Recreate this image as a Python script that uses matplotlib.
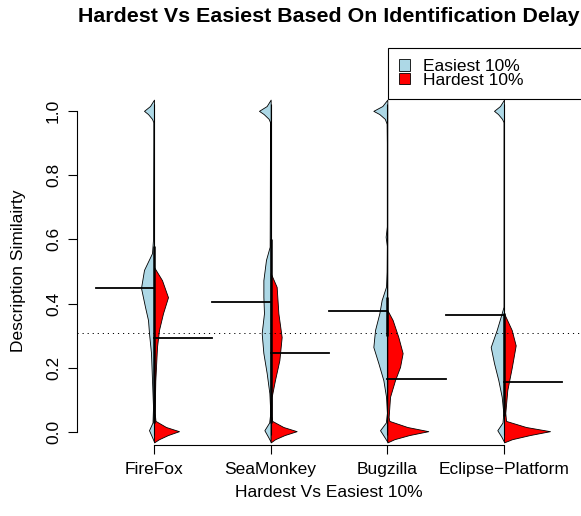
import numpy as np
import matplotlib.pyplot as plt
from matplotlib.patches import Patch

plt.rcParams['font.family'] = ['Liberation Sans', 'DejaVu Sans']

projects = ['FireFox', 'SeaMonkey', 'Bugzilla', 'Eclipse\u2212Platform']

# bean profiles: similarity value -> half width (density, px-like units)
easy_y = [
    [1.035, 1.015, 1.0, 0.99, 0.975, 0.965, 0.9, 0.6, 0.557, 0.505, 0.449, 0.39, 0.349, 0.308, 0.246, 0.162, 0.078, 0.03, 0.006, -0.015, -0.03],
    [1.035, 1.015, 1.0, 0.99, 0.975, 0.965, 0.9, 0.577, 0.536, 0.473, 0.421, 0.37, 0.308, 0.246, 0.184, 0.121, 0.06, 0.03, 0.006, -0.015, -0.03],
    [1.035, 1.015, 1.0, 0.99, 0.975, 0.96, 0.9, 0.64, 0.608, 0.58, 0.5, 0.453, 0.411, 0.37, 0.318, 0.265, 0.215, 0.162, 0.11, 0.06, 0.03, 0.006, -0.015, -0.03],
    [1.035, 1.015, 1.0, 0.99, 0.975, 0.965, 0.9, 0.39, 0.37, 0.318, 0.265, 0.215, 0.162, 0.11, 0.06, 0.03, 0.006, -0.015, -0.03],
]
easy_w = [
    [0, 4, 10, 6, 2, 0.7, 0.7, 1, 2, 10, 13, 9, 6, 5, 3, 2, 1, 1.5, 5, 2, 0],
    [0, 4, 11.7, 7, 2, 0.7, 0.7, 1, 4.7, 7.3, 7.3, 6.7, 9, 7.3, 4, 1.3, 0.4, 1.5, 6.3, 2.5, 0],
    [0, 5, 14, 8, 2.5, 0.7, 0.5, 0.5, 1.7, 0.5, 0.7, 1.3, 5.7, 8, 12.3, 14, 9, 4, 1.3, 0.4, 1.5, 7.3, 3, 0],
    [0, 4, 10, 6, 2, 0.5, 0.5, 0.5, 2.3, 7.3, 13.3, 10, 5.7, 2.3, 0.7, 1.5, 6.7, 2.5, 0],
]
hard_y = [
    [0.514, 0.473, 0.42, 0.37, 0.318, 0.265, 0.16, 0.06, 0.035, 0.016, 0.003, -0.009, -0.022, -0.032],
    [0.495, 0.452, 0.37, 0.296, 0.224, 0.162, 0.11, 0.05, 0.035, 0.016, 0.003, -0.009, -0.022, -0.032],
    [0.38, 0.349, 0.296, 0.246, 0.203, 0.162, 0.11, 0.047, 0.035, 0.016, 0.003, -0.009, -0.022, -0.032],
    [0.37, 0.318, 0.27, 0.2, 0.131, 0.06, 0.035, 0.016, 0.003, -0.009, -0.022, -0.032],
]
hard_w = [
    [0, 8, 14, 9, 5, 3, 1.3, 0.7, 1.5, 12, 25, 14, 5, 0],
    [0, 6, 7.7, 11, 8.7, 4.3, 1, 1, 1.5, 12.7, 26, 14, 4.5, 0],
    [0, 5.3, 11, 15.3, 12.7, 7.7, 2.7, 1.3, 2, 20, 41, 22, 7, 0],
    [0, 7.7, 11.7, 7.7, 3.3, 1.3, 2, 22, 46, 26, 8, 0],
]

easy_median = [0.448, 0.404, 0.378, 0.364]
hard_median = [0.292, 0.247, 0.165, 0.157]
overall_line = 0.31
dense_range = [(0.03, 0.58), (0.03, 0.6), (0.3, 0.42), (0.05, 0.37)]

WIDTH_SCALE = 1 / 116.7

fig = plt.figure(figsize=(5.81, 5.16), dpi=100)
ax = fig.add_axes([77 / 581, 71 / 516, 504 / 581, 347 / 516])

for i, name in enumerate(projects):
    x0 = i + 1
    ey = np.array(easy_y[i])
    ew = np.array(easy_w[i]) * WIDTH_SCALE
    hy = np.array(hard_y[i])
    hw = np.array(hard_w[i]) * WIDTH_SCALE
    ax.fill_betweenx(ey, x0 - ew, x0, facecolor='lightblue', edgecolor='black', lw=0.6)
    ax.fill_betweenx(hy, x0, x0 + hw, facecolor='red', edgecolor='black', lw=0.6)
    # bean lines
    ax.plot([x0, x0], [-0.01, 1.02], color='black', lw=0.8, solid_capstyle='butt')
    ax.plot([x0, x0], dense_range[i], color='black', lw=1.8, solid_capstyle='butt')
    # medians
    ax.plot([x0 - 0.5, x0], [easy_median[i]] * 2, color='black', lw=1.3)
    ax.plot([x0, x0 + 0.5], [hard_median[i]] * 2, color='black', lw=1.3)

ax.axhline(overall_line, color='black', lw=0.7, ls=(0, (1.2, 4)))

ax.set_xlim(0.34, 4.66)
ax.set_ylim(-0.04, 1.04)
for s in ['top', 'right']:
    ax.spines[s].set_visible(False)
ax.spines['left'].set_bounds(0, 1)
ax.spines['bottom'].set_bounds(1, 4)
ax.spines['left'].set_linewidth(0.8)
ax.spines['bottom'].set_linewidth(0.8)

ax.set_xticks(range(1, 5))
ax.set_xticklabels(projects)
ax.set_yticks(np.arange(0, 1.01, 0.2))
ax.set_yticklabels(['%.1f' % v for v in np.arange(0, 1.01, 0.2)], rotation=90, va='center')
ax.tick_params(axis='both', length=6.5, width=0.8, labelsize=12.5)
ax.tick_params(axis='x', pad=6)
ax.tick_params(axis='y', pad=5)

fig.text(329 / 581, 1 - 22.3 / 516, 'Hardest Vs Easiest Based On Identification Delay',
         ha='center', va='baseline', fontsize=15.4, fontweight='bold')
fig.text(329 / 581, 1 - 497 / 516, 'Hardest Vs Easiest 10%', ha='center', va='baseline', fontsize=12.5)
fig.text(19 / 581, 1 - 271 / 516, 'Description Similairty', ha='center', va='center',
         rotation=90, fontsize=12.5)

handles = [Patch(facecolor='lightblue', edgecolor='black', lw=0.6),
           Patch(facecolor='red', edgecolor='black', lw=0.6)]
leg = fig.legend(handles, ['Easiest 10%', 'Hardest 10%'], loc='upper left',
                 bbox_to_anchor=(388 / 581, 1 - 97 / 516, 230 / 581, 49 / 516), mode='expand',
                 borderaxespad=0, fancybox=False, edgecolor='black', framealpha=1,
                 fontsize=12.5, handlelength=0.6, handleheight=0.6, handletextpad=0.8,
                 labelspacing=-0.08, borderpad=0.64)
leg.get_frame().set_linewidth(0.8)

fig.savefig('out.png', dpi=100)
